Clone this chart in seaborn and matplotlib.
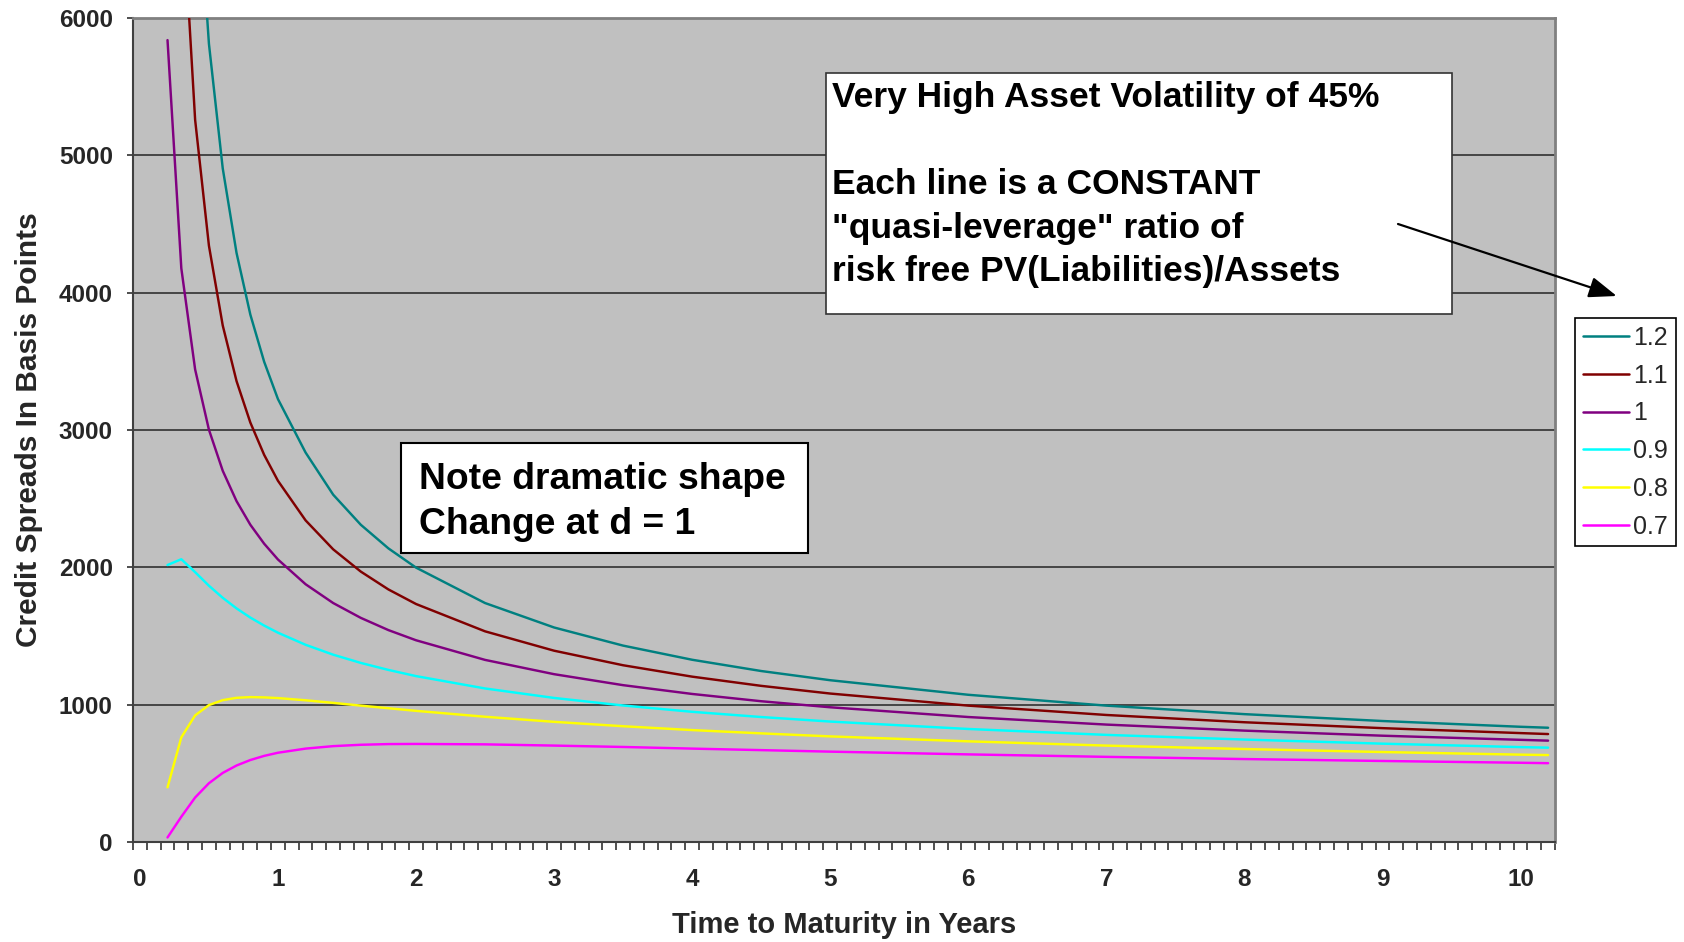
import matplotlib
matplotlib.use("Agg")
import matplotlib.pyplot as plt
import seaborn as sns
import pandas as pd
from matplotlib.patches import Rectangle, FancyArrowPatch

# ---------------- data ----------------
maturity = [0.2, 0.3, 0.4, 0.5, 0.6, 0.7, 0.8, 0.9, 1.0, 1.2, 1.4, 1.6, 1.8, 2.0,
            2.5, 3.0, 3.5, 4.0, 4.5, 5.0, 6.0, 7.0, 8.0, 9.0, 10.0, 10.2]

spread_1_2 = [18973, 10220, 7296, 5812, 4905, 4289, 3840, 3497, 3225, 2836, 2529, 2310, 2138, 1998,
              1740, 1562, 1430, 1327, 1245, 1178, 1072, 993, 931, 881, 839, 832]
spread_1_1 = [11797, 6983, 5259, 4342, 3761, 3356, 3054, 2819, 2630, 2342, 2131, 1969, 1839, 1733,
              1534, 1393, 1287, 1204, 1137, 1081, 993, 925, 872, 829, 793, 786]
spread_1_0 = [5839, 4177, 3441, 3002, 2703, 2482, 2310, 2172, 2057, 1877, 1740, 1632, 1543, 1469,
              1326, 1222, 1142, 1078, 1025, 981, 910, 855, 811, 774, 744, 738]
spread_0_9 = [2017, 2059, 1965, 1866, 1778, 1701, 1634, 1576, 1524, 1436, 1364, 1304, 1253, 1208,
              1118, 1049, 994, 948, 910, 877, 823, 780, 746, 716, 691, 687]
spread_0_8 = [398, 762, 922, 997, 1033, 1050, 1055, 1053, 1048, 1032, 1013, 993, 974, 955,
              912, 875, 843, 815, 791, 769, 733, 702, 677, 655, 636, 633]
spread_0_7 = [33, 184, 324, 428, 503, 557, 597, 627, 650, 680, 698, 708, 713, 714,
              711, 702, 692, 680, 669, 658, 638, 620, 604, 590, 577, 574]

series_labels = ["1.2", "1.1", "1", "0.9", "0.8", "0.7"]
series_values = [spread_1_2, spread_1_1, spread_1_0, spread_0_9, spread_0_8, spread_0_7]
series_colors = ["#008080", "#800000", "#800080", "#00FFFF", "#FFFF00", "#FF00FF"]

x_tick_values = [0, 1, 2, 3, 4, 5, 6, 7, 8, 9, 10]
x_tick_labels = ["0", "1", "2", "3", "4", "5", "6", "7", "8", "9", "10"]
y_tick_values = [0, 1000, 2000, 3000, 4000, 5000, 6000]
y_tick_labels = ["0", "1000", "2000", "3000", "4000", "5000", "6000"]

rows = []
for lab, vals in zip(series_labels, series_values):
    for t, v in zip(maturity, vals):
        rows.append({"t": t, "spread": v, "ratio": lab})
df = pd.DataFrame(rows)

# ---------------- style ----------------
sns.set_style("white")
plt.rcParams["font.family"] = ["Liberation Sans", "DejaVu Sans"]

W, H = 1684, 942
def fx(x):
    return x / W
def fy(y):
    return 1 - y / H

fig = plt.figure(figsize=(W / 100, H / 100), dpi=100)
fig.patch.set_facecolor("white")
ax = fig.add_axes([fx(133), fy(842), (1555 - 133) / W, (842 - 18) / H])
ax.set_facecolor("#C0C0C0")

sns.lineplot(data=df, x="t", y="spread", hue="ratio", hue_order=series_labels,
             palette=dict(zip(series_labels, series_colors)), linewidth=1.75,
             errorbar=None, ax=ax, zorder=3)

ax.set_xlim(-0.05, 10.25)
ax.set_ylim(0, 6000)

ax.set_xticks(x_tick_values)
ax.set_xticklabels(x_tick_labels)
ax.set_xticks([-0.05 + 0.1 * k for k in range(104)], minor=True)
ax.set_yticks(y_tick_values)
ax.set_yticklabels(y_tick_labels)

ax.yaxis.grid(True, color="#303030", linewidth=1.2)
ax.xaxis.grid(False)
ax.set_axisbelow(True)

for side in ["top", "right"]:
    ax.spines[side].set_color("#808080")
    ax.spines[side].set_linewidth(2.0)
for side in ["left", "bottom"]:
    ax.spines[side].set_color("#404040")
    ax.spines[side].set_linewidth(1.5)

ax.tick_params(axis="y", which="major", left=True, direction="out", length=4.5, width=1.2,
               color="#303030", pad=10, labelsize=17.5)
ax.tick_params(axis="x", which="major", bottom=True, length=0, pad=19, labelsize=17.5)
ax.tick_params(axis="x", which="minor", bottom=True, direction="out", length=5.5, width=1.1,
               color="#202020")
for lbl in ax.get_xticklabels() + ax.get_yticklabels():
    lbl.set_fontweight("bold")

ax.set_xlabel("Time to Maturity in Years", fontsize=21, fontweight="bold")
ax.set_ylabel("Credit Spreads In Basis Points", fontsize=21.5, fontweight="bold")
ax.xaxis.set_label_coords(0.5, (842 - 925) / 824)
ax.xaxis.label.set_va("center")
ax.yaxis.set_label_coords((29 - 133) / 1422, 0.5)
ax.yaxis.label.set_va("center")

# legend
handles, labels = ax.get_legend_handles_labels()
leg = ax.legend(handles, labels, loc="upper left",
                bbox_to_anchor=(fx(1575.3), fy(318.3)), bbox_transform=fig.transFigure,
                fontsize=18, frameon=True, fancybox=False, framealpha=1,
                edgecolor="black", borderpad=0.3, labelspacing=0.55,
                handlelength=1.85, handletextpad=0.17, borderaxespad=0)
leg.get_frame().set_linewidth(1.2)
for line in leg.get_lines():
    line.set_linewidth(1.8)

# text box 1
fig.add_artist(Rectangle((fx(826), fy(314)), (1452 - 826) / W, (314 - 73) / H,
                         transform=fig.transFigure, facecolor="white",
                         edgecolor="#333333", linewidth=1.2, zorder=3))
box1_lines = [
    ("Very High Asset Volatility of 45%", 106.7),
    ("Each line is a CONSTANT", 194.0),
    ("\"quasi-leverage\" ratio of", 237.7),
    ("risk free PV(Liabilities)/Assets", 281.4),
]
for txt, base in box1_lines:
    fig.text(fx(832), fy(base), txt, fontsize=25.5, fontweight="bold",
             ha="left", va="baseline", color="black", zorder=4)

# text box 2
fig.add_artist(Rectangle((fx(400.7), fy(553.3)), (807.6 - 400.7) / W, (553.3 - 443.3) / H,
                         transform=fig.transFigure, facecolor="white",
                         edgecolor="black", linewidth=1.5, zorder=3))
box2_lines = [("Note dramatic shape", 489.3), ("Change at d = 1", 534.0)]
for txt, base in box2_lines:
    fig.text(fx(419), fy(base), txt, fontsize=26.8, fontweight="bold",
             ha="left", va="baseline", color="black", zorder=4)

# arrow
arrow = FancyArrowPatch((fx(1398), fy(224)), (fx(1616.7), fy(296)),
                        transform=fig.transFigure,
                        arrowstyle="-|>,head_length=0.85,head_width=0.32",
                        mutation_scale=20, color="black", linewidth=1.6,
                        shrinkA=0, shrinkB=0, zorder=5)
fig.add_artist(arrow)

fig.savefig("out.png", dpi=100, facecolor="white")
